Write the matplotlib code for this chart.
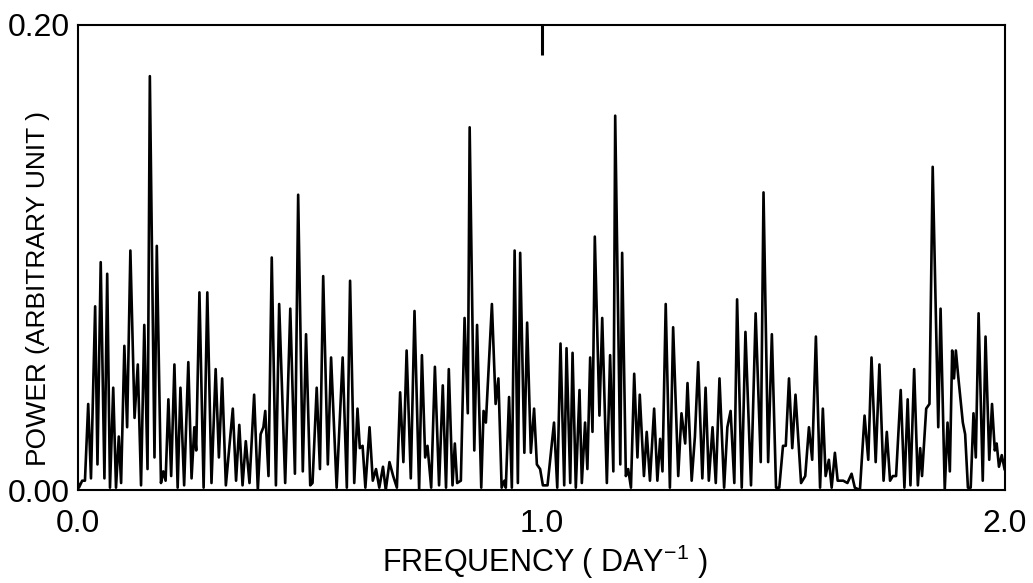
import matplotlib
matplotlib.use("Agg")
import matplotlib.pyplot as plt

plt.rcParams['font.family'] = ['Liberation Sans', 'DejaVu Sans']
plt.rcParams['mathtext.default'] = 'regular'

# periodogram (frequency in day^-1, power in arbitrary units)
freq = [
    0.000, 0.002, 0.009, 0.015, 0.022, 0.028, 0.037, 0.042, 0.049, 0.057,
    0.063, 0.069, 0.076, 0.082, 0.088, 0.093, 0.100, 0.106, 0.113, 0.122,
    0.129, 0.136, 0.143, 0.150, 0.155, 0.165, 0.170, 0.179, 0.184, 0.189,
    0.195, 0.201, 0.208, 0.215, 0.221, 0.229, 0.238, 0.245, 0.251, 0.255,
    0.262, 0.271, 0.279, 0.288, 0.297, 0.304, 0.311, 0.319, 0.334, 0.341,
    0.348, 0.355, 0.362, 0.370, 0.380, 0.388, 0.394, 0.400, 0.404, 0.411,
    0.418, 0.427, 0.434, 0.447, 0.458, 0.468, 0.475, 0.485, 0.492, 0.501,
    0.506, 0.515, 0.522, 0.529, 0.539, 0.546, 0.558, 0.571, 0.580, 0.587,
    0.596, 0.603, 0.608, 0.614, 0.620, 0.629, 0.636, 0.643, 0.650, 0.658,
    0.664, 0.672, 0.680, 0.688, 0.695, 0.702, 0.709, 0.718, 0.726, 0.736,
    0.742, 0.749, 0.754, 0.762, 0.770, 0.779, 0.787, 0.794, 0.800, 0.808,
    0.813, 0.818, 0.826, 0.834, 0.841, 0.845, 0.855, 0.861, 0.870, 0.875,
    0.880, 0.893, 0.901, 0.907, 0.914, 0.920, 0.923, 0.930, 0.936, 0.942,
    0.949, 0.954, 0.963, 0.969, 0.977, 0.984, 0.990, 0.997, 1.003, 1.013,
    1.027, 1.034, 1.041, 1.049, 1.054, 1.062, 1.067, 1.074, 1.082, 1.087,
    1.094, 1.099, 1.105, 1.110, 1.115, 1.125, 1.131, 1.141, 1.148, 1.155,
    1.159, 1.170, 1.174, 1.182, 1.187, 1.193, 1.200, 1.207, 1.212, 1.221,
    1.227, 1.234, 1.243, 1.250, 1.256, 1.261, 1.268, 1.277, 1.284, 1.295,
    1.302, 1.310, 1.315, 1.324, 1.331, 1.338, 1.347, 1.354, 1.361, 1.369,
    1.376, 1.384, 1.394, 1.401, 1.408, 1.416, 1.422, 1.432, 1.440, 1.452,
    1.462, 1.473, 1.479, 1.489, 1.497, 1.506, 1.513, 1.521, 1.527, 1.534,
    1.541, 1.548, 1.560, 1.569, 1.577, 1.584, 1.592, 1.601, 1.607, 1.613,
    1.620, 1.626, 1.633, 1.639, 1.651, 1.660, 1.669, 1.676, 1.687, 1.697,
    1.705, 1.712, 1.721, 1.729, 1.738, 1.745, 1.752, 1.758, 1.765, 1.775,
    1.783, 1.790, 1.796, 1.804, 1.812, 1.817, 1.821, 1.830, 1.837, 1.844,
    1.856, 1.861, 1.870, 1.876, 1.881, 1.886, 1.890, 1.894, 1.899, 1.909,
    1.914, 1.920, 1.926, 1.932, 1.937, 1.943, 1.952, 1.958, 1.966, 1.972,
    1.978, 1.982, 1.987, 1.993, 1.999,
]
power = [
    0.003, 0.001, 0.004, 0.004, 0.037, 0.005, 0.079, 0.011, 0.098, 0.005,
    0.093, 0.001, 0.044, 0.001, 0.023, 0.003, 0.062, 0.027, 0.103, 0.031,
    0.054, 0.002, 0.071, 0.009, 0.178, 0.014, 0.105, 0.003, 0.008, 0.004,
    0.039, 0.006, 0.054, 0.001, 0.044, 0.002, 0.055, 0.005, 0.027, 0.017,
    0.085, 0.001, 0.085, 0.003, 0.052, 0.014, 0.048, 0.002, 0.035, 0.004,
    0.028, 0.002, 0.021, 0.003, 0.041, 0.000, 0.024, 0.027, 0.034, 0.006,
    0.100, 0.002, 0.080, 0.003, 0.078, 0.007, 0.127, 0.008, 0.067, 0.002,
    0.003, 0.044, 0.009, 0.092, 0.011, 0.057, 0.001, 0.057, 0.001, 0.090,
    0.003, 0.035, 0.018, 0.019, 0.001, 0.027, 0.004, 0.009, 0.001, 0.010,
    0.000, 0.012, 0.006, 0.001, 0.042, 0.012, 0.060, 0.005, 0.077, 0.000,
    0.058, 0.014, 0.019, 0.001, 0.053, 0.002, 0.045, 0.001, 0.052, 0.002,
    0.020, 0.003, 0.004, 0.074, 0.033, 0.156, 0.017, 0.071, 0.001, 0.034,
    0.029, 0.080, 0.037, 0.048, 0.001, 0.004, 0.001, 0.040, 0.001, 0.103,
    0.003, 0.102, 0.016, 0.072, 0.016, 0.035, 0.011, 0.009, 0.002, 0.002,
    0.029, 0.001, 0.063, 0.002, 0.061, 0.003, 0.059, 0.001, 0.043, 0.003,
    0.029, 0.009, 0.057, 0.025, 0.109, 0.032, 0.074, 0.003, 0.058, 0.008,
    0.161, 0.011, 0.102, 0.006, 0.009, 0.001, 0.050, 0.014, 0.041, 0.006,
    0.025, 0.004, 0.035, 0.004, 0.022, 0.008, 0.080, 0.001, 0.070, 0.006,
    0.033, 0.020, 0.046, 0.004, 0.023, 0.055, 0.005, 0.044, 0.004, 0.027,
    0.003, 0.048, 0.001, 0.027, 0.034, 0.003, 0.082, 0.001, 0.068, 0.002,
    0.076, 0.012, 0.128, 0.012, 0.067, 0.001, 0.001, 0.019, 0.019, 0.048,
    0.018, 0.041, 0.003, 0.006, 0.027, 0.013, 0.066, 0.001, 0.035, 0.006,
    0.013, 0.001, 0.016, 0.004, 0.004, 0.003, 0.007, 0.001, 0.000, 0.032,
    0.013, 0.057, 0.012, 0.054, 0.004, 0.025, 0.004, 0.006, 0.006, 0.043,
    0.001, 0.039, 0.002, 0.052, 0.002, 0.018, 0.006, 0.035, 0.037, 0.139,
    0.027, 0.078, 0.000, 0.029, 0.008, 0.060, 0.048, 0.060, 0.049, 0.029,
    0.024, 0.001, 0.001, 0.033, 0.014, 0.076, 0.004, 0.066, 0.013, 0.037,
    0.017, 0.020, 0.010, 0.015, 0.009,
]

# short marker at the top of the frame
marker_freq = 1.0
marker_span = [0.200, 0.187]

x_ticks = [0.0, 1.0, 2.0]
x_ticklabels = ['0.0', '1.0', '2.0']
y_ticks = [0.0, 0.2]
y_ticklabels = ['0.00', '0.20']

W, H = 1033, 583
fig = plt.figure(figsize=(W / 100, H / 100), dpi=100)
ax = fig.add_axes([78 / W, 93 / H, 927 / W, 465 / H])

ax.plot(freq, power, color='black', lw=1.9, solid_joinstyle='round')
ax.plot([marker_freq, marker_freq], marker_span, color='black', lw=2.2,
        solid_capstyle='butt')

ax.set_xlim(0, 2.0)
ax.set_ylim(0, 0.2)
ax.set_xticks(x_ticks)
ax.set_xticklabels(x_ticklabels)
ax.set_yticks(y_ticks)
ax.set_yticklabels(y_ticklabels)
ax.tick_params(length=0, labelsize=23)
ax.tick_params(axis='x', pad=14)
ax.tick_params(axis='y', pad=6)
for s in ax.spines.values():
    s.set_linewidth(1.5)

fig.text(382 / W, 11 / H, r'FREQUENCY ( DAY$^{-1}$ )', fontsize=22,
         ha='left', va='baseline')
fig.text(50 / W, (H - 412) / H, 'POWER', fontsize=20, rotation=90,
         ha='right', va='center')
fig.text(50 / W, (H - 354) / H, '(ARBITRARY UNIT )', fontsize=19,
         rotation=90, ha='right', va='bottom')

fig.savefig('out.png', dpi=100)
